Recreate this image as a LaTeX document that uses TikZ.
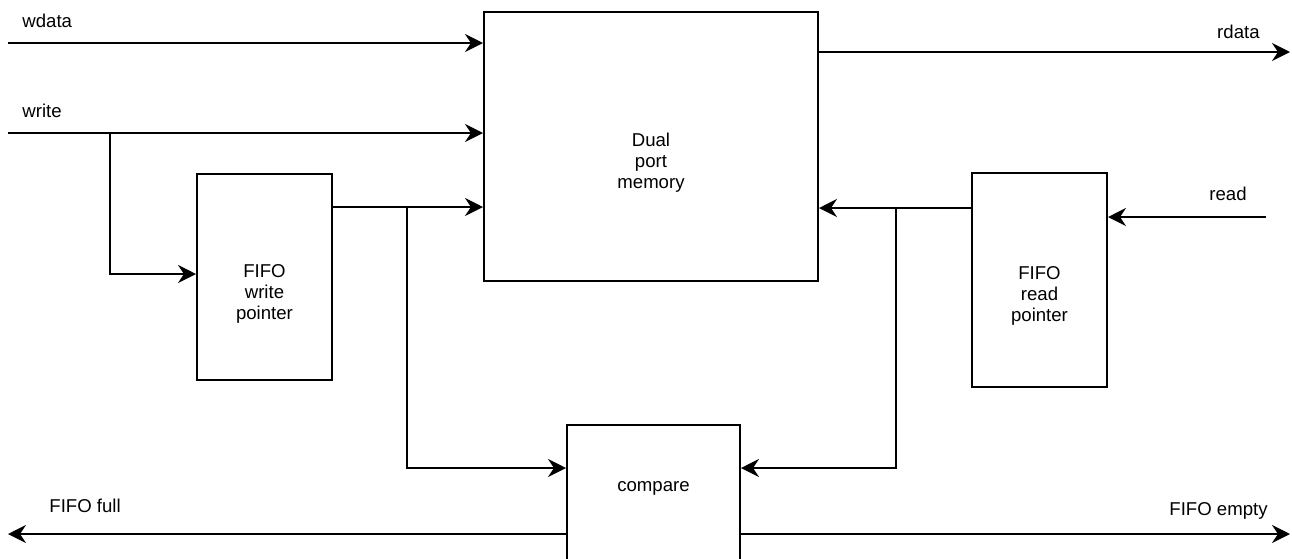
\documentclass[tikz,border=0pt]{standalone}
\usepackage{fontspec}
\setmainfont{Liberation Sans}
\usetikzlibrary{arrows.meta}
\tikzset{
  blk/.style={draw, line width=1pt, inner sep=0pt},
  sig/.style={line width=1pt, -{Stealth[length=9pt,width=9pt,inset=3pt]}},
  lbl/.style={font=\fontsize{9.3}{10.5}\selectfont, inner sep=0pt, align=center}
}
\begin{document}
\begin{tikzpicture}[x=0.5pt,y=-0.5pt]
        \useasboundingbox (0,0) rectangle (1292,558);

        \node[blk, minimum width=167pt, minimum height=134.5pt] (mem) at (651,146.5) {};
        \node[blk, minimum width=67.5pt, minimum height=103pt] (wp) at (264.5,277) {};
        \node[blk, minimum width=67.5pt, minimum height=107pt] (rp) at (1039.5,280) {};
        \node[blk, minimum width=86.5pt, minimum height=87.5pt] (cmp) at (653.5,512.5) {};

        \node[lbl] (memtxt) at (651,163) {Dual\\port\\memory};
        \node[lbl] (wptxt) at (264.5,294) {FIFO\\write\\pointer};
        \node[lbl] (rptxt) at (1039.5,296) {FIFO\\read\\pointer};
        \node[lbl] (cmptxt) at (653.5,488) {compare};

        \node[lbl, anchor=base west] (wdatalbl) at (22,27) {wdata};
        \node[lbl, anchor=base west] (writelbl) at (22,117) {write};
        \node[lbl, anchor=base east] (rdatalbl) at (1260,38) {rdata};
        \node[lbl, anchor=base east] (readlbl) at (1247,200) {read};
        \node[lbl, anchor=base west] (fulllbl) at (49,512) {FIFO full};
        \node[lbl, anchor=base east] (emptylbl) at (1268,515) {FIFO empty};

        \coordinate (wdin) at (8,43);
        \coordinate (wrin) at (8,133);
        \coordinate (wrbr) at (110,133);
        \coordinate (wpin) at (0,274);
        \coordinate (wpout) at (332,207);
        \coordinate (wpbr) at (407,207);
        \coordinate (rdout) at (1290,52);
        \coordinate (rdin) at (1266,217);
        \coordinate (rpout) at (972,208);
        \coordinate (rpbr) at (896,208);
        \coordinate (cmpin) at (0,468);
        \coordinate (fullout) at (8,534);
        \coordinate (emptyout) at (1290,534);

        \draw[sig] (wdin) -- (wdin -| mem.west);
        \draw[sig] (wrin) -- (wrin -| mem.west);
        \draw[sig] (wrbr) |- (wp.west |- wpin);
        \draw[sig] (wpout) -- (wpout -| mem.west);
        \draw[sig] (wpbr) |- (cmp.west |- cmpin);
        \draw[sig] (mem.east |- rdout) -- (rdout);
        \draw[sig] (rdin) -- (rdin -| rp.east);
        \draw[sig] (rpout) -- (rpout -| mem.east);
        \draw[sig] (rpbr) |- (cmp.east |- cmpin);
        \draw[sig] (cmp.west |- fullout) -- (fullout);
        \draw[sig] (cmp.east |- emptyout) -- (emptyout);
\end{tikzpicture}
\end{document}
